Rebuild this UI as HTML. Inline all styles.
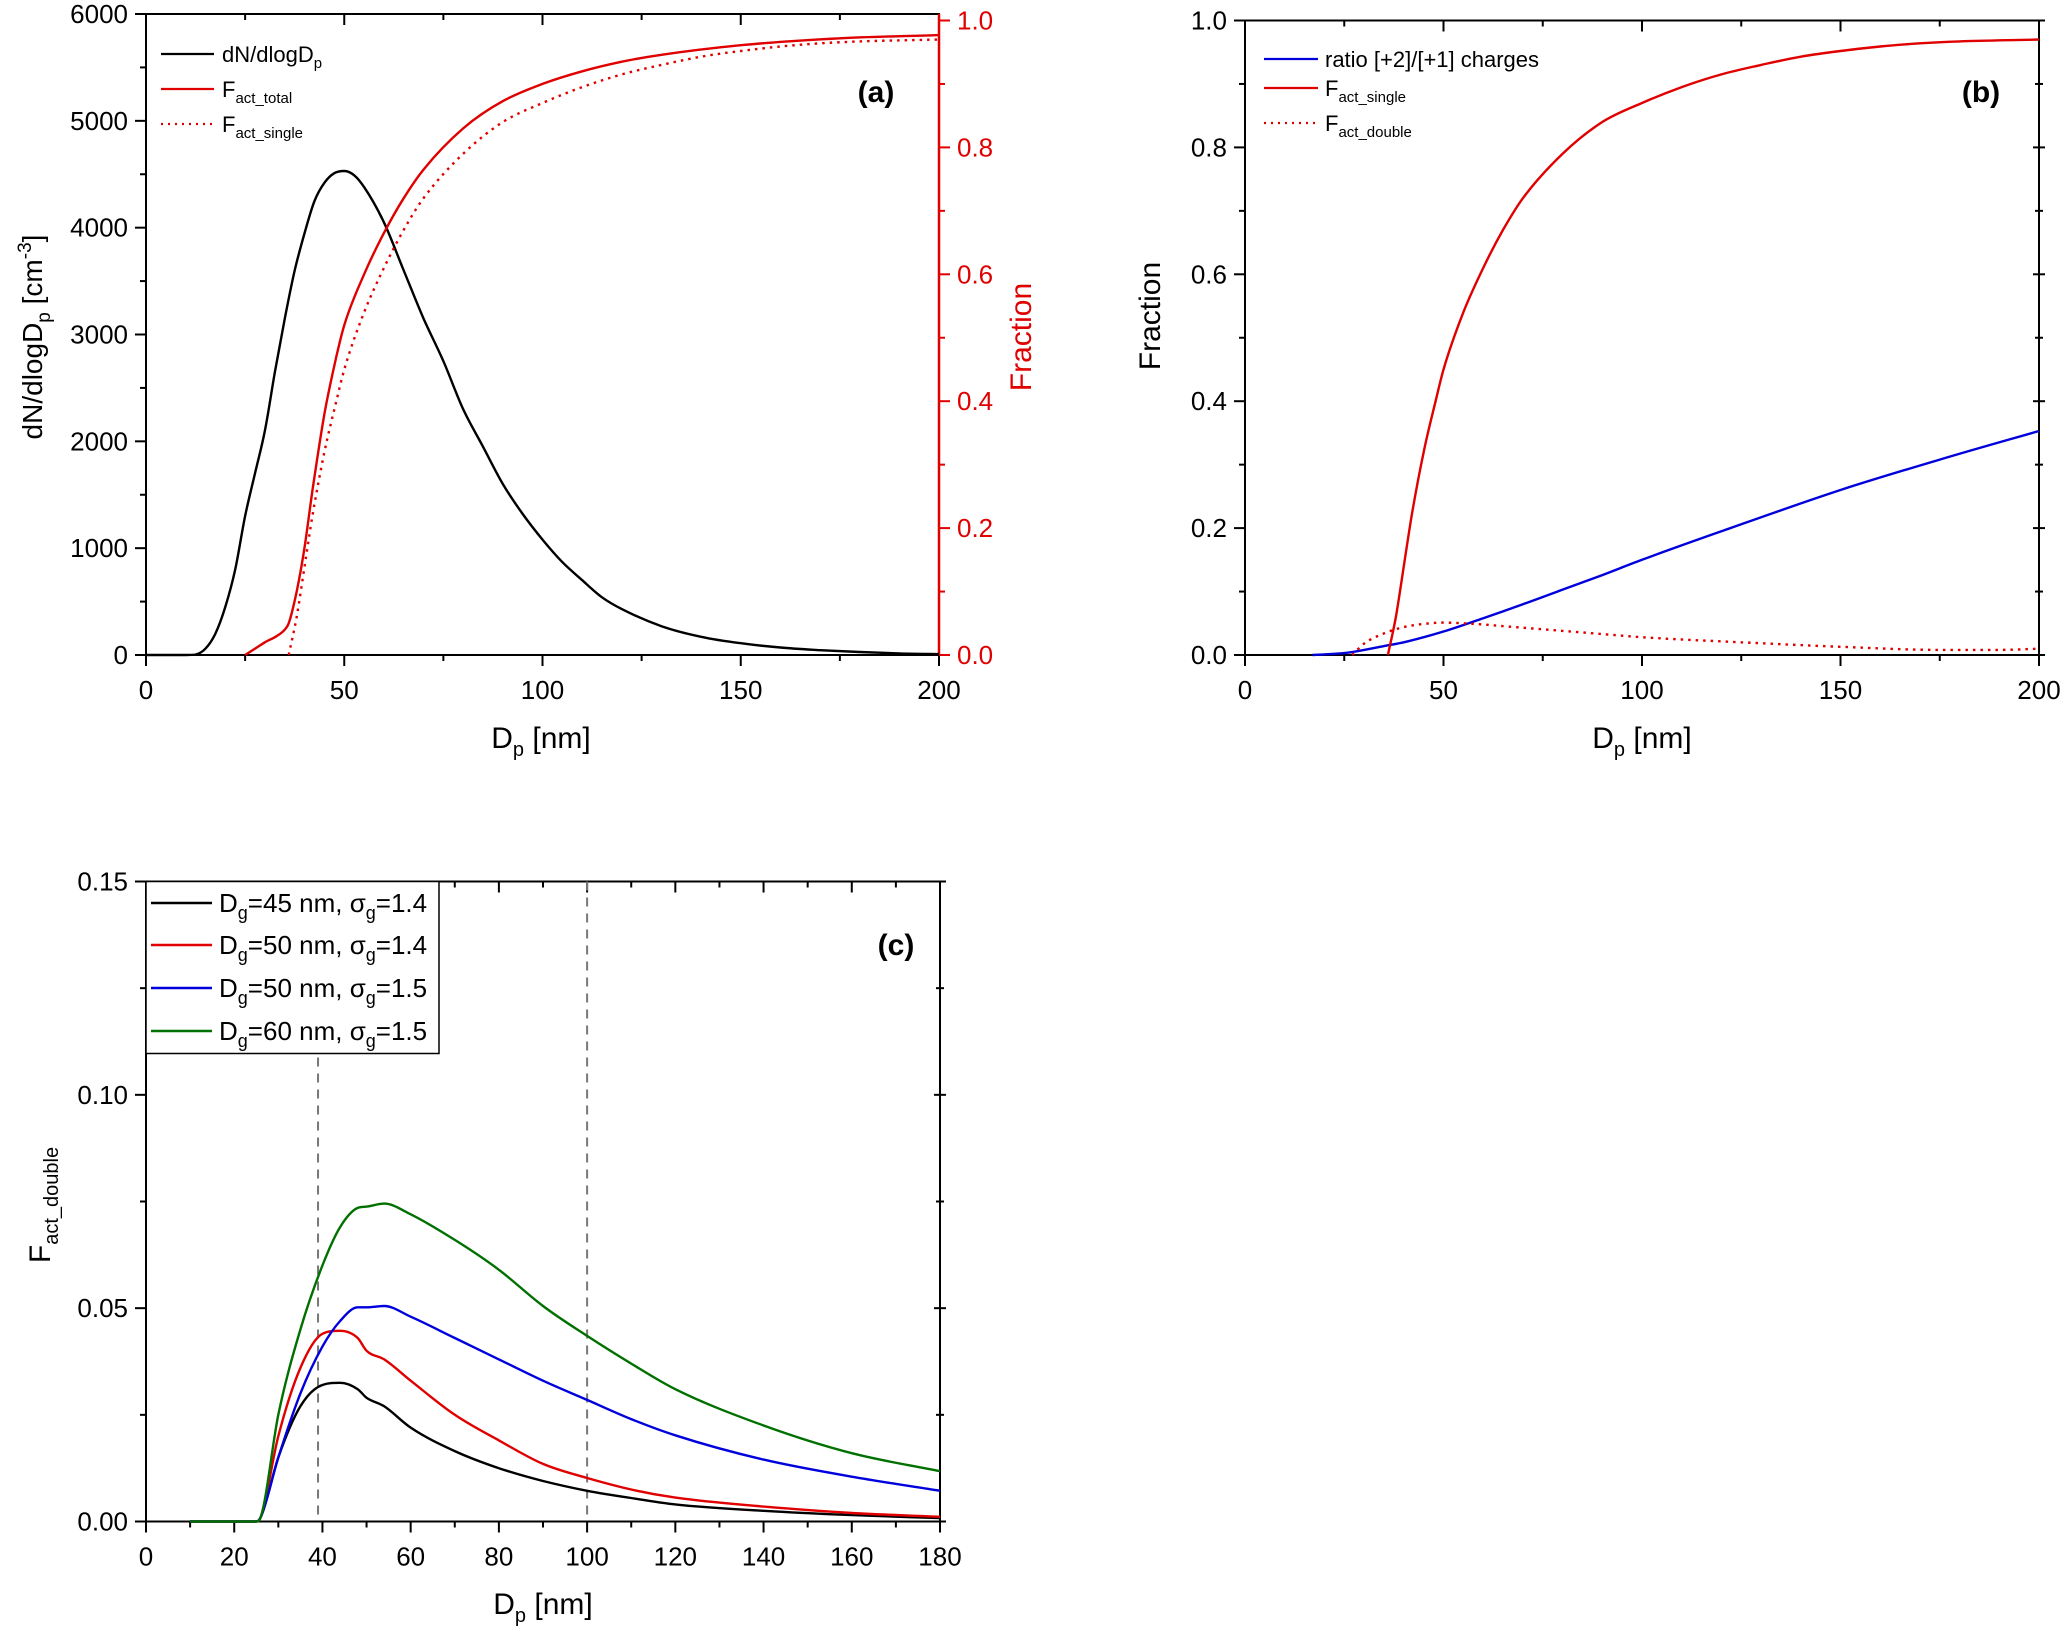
<!DOCTYPE html>
<html><head><meta charset="utf-8">
<style>
html,body{margin:0;padding:0;background:#fff;}
svg{display:block;font-family:"Liberation Sans",Arial,sans-serif;}
</style></head>
<body>
<svg id="fig" width="2067" height="1636" viewBox="0 0 2067 1636" xmlns="http://www.w3.org/2000/svg">
<g font-size="25">
  <text x="876" y="102" font-size="30" font-weight="bold" text-anchor="middle">(a)</text>
  <text x="541" y="748" font-size="30" text-anchor="middle">D<tspan font-size="20" dy="8">p</tspan><tspan dy="-8"> [nm]</tspan></text>
  <text transform="translate(42,337) rotate(-90)" font-size="28" text-anchor="middle">dN/dlogD<tspan font-size="19" dy="8">p</tspan><tspan dy="-8"> [cm</tspan><tspan font-size="19" dy="-11">-3</tspan><tspan dy="11">]</tspan></text>
  <text transform="translate(1031,337) rotate(-90)" font-size="30" fill="#e00000" text-anchor="middle">Fraction</text>
  <line x1="161" y1="54" x2="214" y2="54" stroke="#000" stroke-width="2.2"/>
  <text x="222" y="62" font-size="22">dN/dlogD<tspan font-size="15" dy="6">p</tspan></text>
  <line x1="161" y1="89" x2="214" y2="89" stroke="#e00000" stroke-width="2.2"/>
  <text x="222" y="97" font-size="22">F<tspan font-size="15" dy="6">act_total</tspan></text>
  <line x1="161" y1="124" x2="214" y2="124" stroke="#e00000" stroke-width="2.2" stroke-dasharray="2,5"/>
  <text x="222" y="132" font-size="22">F<tspan font-size="15" dy="6">act_single</tspan></text>
</g>
<g font-size="25">
  <text x="1981" y="102" font-size="30" font-weight="bold" text-anchor="middle">(b)</text>
  <text x="1642" y="748" font-size="30" text-anchor="middle">D<tspan font-size="20" dy="8">p</tspan><tspan dy="-8"> [nm]</tspan></text>
  <text transform="translate(1160,316) rotate(-90)" font-size="30" text-anchor="middle">Fraction</text>
  <line x1="1264" y1="59" x2="1318" y2="59" stroke="#0000dd" stroke-width="2.2"/>
  <text x="1325" y="67" font-size="22">ratio [+2]/[+1] charges</text>
  <line x1="1264" y1="88" x2="1318" y2="88" stroke="#e00000" stroke-width="2.2"/>
  <text x="1325" y="96" font-size="22">F<tspan font-size="15" dy="6">act_single</tspan></text>
  <line x1="1264" y1="123" x2="1318" y2="123" stroke="#e00000" stroke-width="2.2" stroke-dasharray="2,5"/>
  <text x="1325" y="131" font-size="22">F<tspan font-size="15" dy="6">act_double</tspan></text>
</g>
<g font-size="25">
  <text x="896" y="955" font-size="30" font-weight="bold" text-anchor="middle">(c)</text>
  <text x="543" y="1614" font-size="30" text-anchor="middle">D<tspan font-size="20" dy="8">p</tspan><tspan dy="-8"> [nm]</tspan></text>
  <text transform="translate(50,1205) rotate(-90)" font-size="30" text-anchor="middle">F<tspan font-size="20" dy="8">act_double</tspan></text>
</g>
<g id="plots"></g>
</svg>
<script>
const aDnX = [0,5,10,12.5,15,17.5,20,22.5,25,27.5,30,32.5,35,37.5,40,42.5,45,47.5,50,52.5,55,60,65,70,75,80,85,90,95,100,105,110,115,120,130,140,150,160,170,180,190,200];
const aDnY = [0,0,0,5,60,200,450,800,1300,1700,2100,2650,3150,3600,3950,4250,4420,4510,4530,4490,4380,4050,3600,3150,2750,2300,1950,1600,1320,1080,870,700,540,430,270,170,110,70,45,28,15,8];
const aTotX = [25,28,30,33,35,36,38,40,42,45,48,50,55,60,65,70,80,90,100,110,120,130,150,175,200];
const aTotY = [0,0.012,0.02,0.03,0.04,0.05,0.1,0.17,0.26,0.38,0.47,0.52,0.6,0.665,0.72,0.765,0.83,0.873,0.9,0.92,0.935,0.946,0.961,0.972,0.977];
const singleX = [36,38,40,42,45,48,50,55,60,65,70,80,90,100,110,120,130,140,150,160,170,180,200];
const singleY = [0,0.06,0.14,0.22,0.32,0.4,0.45,0.54,0.61,0.67,0.72,0.79,0.84,0.87,0.895,0.915,0.93,0.943,0.952,0.959,0.964,0.967,0.97];
const ratioX = [17,20,25,30,35,40,50,60,70,80,90,100,120,150,175,200];
const ratioY = [0,0.001,0.003,0.008,0.014,0.02,0.037,0.058,0.08,0.103,0.126,0.15,0.195,0.26,0.308,0.353];
const doubleX = [27,30,35,40,45,50,55,60,70,80,90,100,125,150,175,190,200];
const doubleY = [0,0.018,0.034,0.044,0.049,0.051,0.05,0.048,0.043,0.038,0.033,0.028,0.02,0.013,0.008,0.008,0.01];
const cX = [10,20,25,26,30,35,40,44,48,50,54,60,70,80,90,100,110,120,140,160,180];
const cBlack = [0,0,0,0.001,0.015,0.027,0.032,0.0325,0.031,0.029,0.027,0.022,0.0165,0.0125,0.0095,0.0072,0.0055,0.004,0.0025,0.0015,0.0008];
const cRed   = [0,0,0,0.001,0.02,0.036,0.044,0.0447,0.043,0.04,0.038,0.033,0.025,0.019,0.0135,0.0102,0.0075,0.0056,0.0035,0.002,0.0011];
const cBlue  = [0,0,0,0.001,0.015,0.03,0.041,0.047,0.0502,0.0502,0.0505,0.048,0.043,0.038,0.033,0.0285,0.024,0.0202,0.0145,0.0105,0.0072];
const cGreen = [0,0,0,0.001,0.025,0.045,0.06,0.069,0.0735,0.0738,0.0745,0.072,0.066,0.059,0.0505,0.0435,0.037,0.031,0.0225,0.016,0.0118];
const cLegend = ["45 nm, \u03c3","50 nm, \u03c3","50 nm, \u03c3","60 nm, \u03c3"];
const cSigma = ["1.4","1.4","1.5","1.5"];
const aXTicks = [0,50,100,150,200];
const aYTicks = [0,1000,2000,3000,4000,5000,6000];
const aY2Ticks = ["0.0","0.2","0.4","0.6","0.8","1.0"];
const bYTicks = ["0.0","0.2","0.4","0.6","0.8","1.0"];
const cXTicks = [0,20,40,60,80,100,120,140,160,180];
const cYTicks = ["0.00","0.05","0.10","0.15"];
const cVLines = [39,100];

const NS="http://www.w3.org/2000/svg";
const root=document.getElementById('plots');
function mk(tag,attrs,parent){const e=document.createElementNS(NS,tag);for(const k in attrs)e.setAttribute(k,attrs[k]);(parent||root).appendChild(e);return e;}
function lin(d0,d1,p0,p1){return v=>p0+(v-d0)/(d1-d0)*(p1-p0);}
function path(xs,ys,sx,sy,color,dash,name){
  const px=xs.map(sx), py=ys.map(sy), n=px.length;
  const dl=[],m=new Array(n);
  for(let i=0;i<n-1;i++)dl.push((py[i+1]-py[i])/(px[i+1]-px[i]));
  m[0]=dl[0];m[n-1]=dl[n-2];
  for(let i=1;i<n-1;i++){m[i]=(dl[i-1]*dl[i]<=0)?0:(dl[i-1]+dl[i])/2;}
  for(let i=0;i<n-1;i++){if(dl[i]===0){m[i]=0;m[i+1]=0;continue;}
    const a=m[i]/dl[i],b=m[i+1]/dl[i],s=a*a+b*b;if(s>9){const t=3/Math.sqrt(s);m[i]=t*a*dl[i];m[i+1]=t*b*dl[i];}}
  let d='M'+px[0].toFixed(1)+','+py[0].toFixed(1);
  for(let i=0;i<n-1;i++){const h=(px[i+1]-px[i])/3;
    d+='C'+(px[i]+h).toFixed(1)+','+(py[i]+m[i]*h).toFixed(1)+' '+(px[i+1]-h).toFixed(1)+','+(py[i+1]-m[i+1]*h).toFixed(1)+' '+px[i+1].toFixed(1)+','+py[i+1].toFixed(1);}
  const p=mk('path',{d:d,fill:'none',stroke:color,'stroke-width':2.4,'stroke-linejoin':'round'});
  if(dash)p.setAttribute('stroke-dasharray',dash);
  
  
}
function tick(x1,y1,x2,y2,color){const t=mk('line',{x1:x1,y1:y1,x2:x2,y2:y2,stroke:color,'stroke-width':2});
  
  }
function label(x,y,txt,anchor,color){const t=mk('text',{x:x,y:y,'font-size':26,'text-anchor':anchor,fill:color});t.textContent=txt;
  
  }

(function(){
  const L=146,R=939,T=14,B=655, T2=20.5;
  const sx=lin(0,200,L,R), sy=lin(0,6000,B,T), sy2=lin(0,1,B,T2);
  const f=mk('rect',{x:L,y:T,width:R-L,height:B-T,fill:'none',stroke:'#000','stroke-width':2});
  
  
  for(let v=0;v<=200;v+=25){const x=sx(v),mj=v%50==0;tick(x,B,x,B+(mj?11:6),'#000');tick(x,T,x,T+(mj?11:6),'#000');}
  aXTicks.forEach(v=>label(sx(v),B+44,String(v),'middle','#000'));
  for(let v=0;v<=6000;v+=500){const y=sy(v),mj=v%1000==0;tick(L,y,L-(mj?11:6),y,'#000');}
  aYTicks.forEach(v=>label(L-18,sy(v)+9,String(v),'end','#000'));
  for(let v=0;v<=10;v++){const y=sy2(v/10),mj=v%2==0;tick(R,y,R+(mj?11:6),y,'#e00000');}
  aY2Ticks.forEach(v=>label(R+18,sy2(+v)+9,v,'start','#e00000'));
  const ax=mk('line',{x1:R,y1:B,x2:R,y2:T,stroke:'#e00000','stroke-width':2.5});
  
  
  path(aDnX,aDnY,sx,sy,'#000',null,'dn-dlogdp-line');
  path(aTotX,aTotY,sx,sy2,'#e00000',null,'f-act-total-line');
  path(singleX,singleY,sx,sy2,'#e00000','2.5,5','f-act-single-line');
})();
(function(){
  const L=1245,R=2039,T=20.5,B=655;
  const sx=lin(0,200,L,R), sy=lin(0,1,B,T);
  const f=mk('rect',{x:L,y:T,width:R-L,height:B-T,fill:'none',stroke:'#000','stroke-width':2});
  
  
  for(let v=0;v<=200;v+=25){const x=sx(v),mj=v%50==0;tick(x,B,x,B+(mj?11:6),'#000');tick(x,T,x,T+(mj?11:6),'#000');}
  aXTicks.forEach(v=>label(sx(v),B+44,String(v),'middle','#000'));
  for(let v=0;v<=10;v++){const y=sy(v/10),mj=v%2==0;tick(L,y,L-(mj?11:6),y,'#000');tick(R-(mj?6:4),y,R+(mj?6:4),y,'#000');}
  bYTicks.forEach(v=>label(L-18,sy(+v)+9,v,'end','#000'));
  path(ratioX,ratioY,sx,sy,'#0000dd',null,'ratio-charges-line');
  path(singleX,singleY,sx,sy,'#e00000',null,'f-act-single-b-line');
  path(doubleX,doubleY,sx,sy,'#e00000','2.5,5','f-act-double-b-line');
})();
(function(){
  const L=146,R=940,T=881.5,B=1521.5;
  const sx=lin(0,180,L,R), sy=lin(0,0.15,B,T);
  const f=mk('rect',{x:L,y:T,width:R-L,height:B-T,fill:'none',stroke:'#000','stroke-width':2});
  
  
  for(let v=0;v<=180;v+=10){const x=sx(v),mj=v%20==0;tick(x,B,x,B+(mj?11:6),'#000');tick(x,T,x,T+(mj?11:6),'#000');}
  cXTicks.forEach(v=>label(sx(v),B+44,String(v),'middle','#000'));
  for(let i=0;i<=6;i++){const v=i*0.025,y=sy(v),mj=i%2==0;tick(L,y,L-(mj?11:6),y,'#000');tick(R-(mj?6:4),y,R+(mj?6:4),y,'#000');}
  cYTicks.forEach(v=>label(L-18,sy(+v)+9,v,'end','#000'));
  cVLines.forEach(v=>{const l=mk('line',{x1:sx(v),y1:T,x2:sx(v),y2:B,stroke:'#777','stroke-width':2,'stroke-dasharray':'9,7'});
    
    });
  const cols=['#000','#e00000','#0000dd','#007000'];
  const names=['c-dg45-s14-line','c-dg50-s14-line','c-dg50-s15-line','c-dg60-s15-line'];
  [cBlack,cRed,cBlue,cGreen].forEach((ys,i)=>path(cX,ys,sx,sy,cols[i],null,names[i]));
  const box=mk('rect',{x:L,y:T,width:293,height:172,fill:'#fff',stroke:'#000','stroke-width':1.5});
  
  
  const ly=[903,945,988,1031];
  for(let i=0;i<4;i++){
    const ln=mk('line',{x1:151,y1:ly[i],x2:212,y2:ly[i],stroke:cols[i],'stroke-width':2.4});
    
    
    const t=mk('text',{x:219,y:ly[i]+9,'font-size':26});
    
    
    t.innerHTML='D<tspan font-size="18" dy="7">g</tspan><tspan dy="-7">='+cLegend[i]+'</tspan><tspan font-size="18" dy="7">g</tspan><tspan dy="-7">='+cSigma[i]+'</tspan>';
  }
})();
</script>
</body></html>
